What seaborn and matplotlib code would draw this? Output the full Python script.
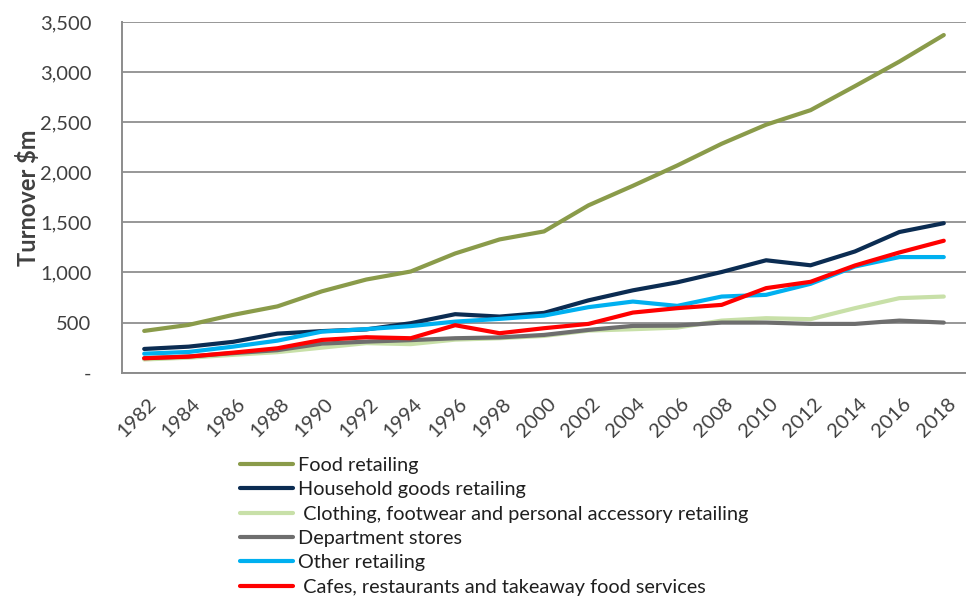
import matplotlib
matplotlib.use("Agg")
import matplotlib.pyplot as plt
import matplotlib.transforms as mtransforms
import seaborn as sns
import pandas as pd
from matplotlib.ticker import FuncFormatter, FixedLocator

years = [str(y) for y in range(1982, 2019, 2)]

food = [417, 477, 577, 662, 812, 930, 1010, 1190, 1330, 1410, 1670, 1865, 2068, 2285, 2475, 2620, 2860, 3105, 3370]
household = [237, 260, 308, 390, 415, 432, 494, 584, 560, 597, 722, 822, 902, 1005, 1122, 1072, 1210, 1404, 1492]
clothing = [132, 150, 178, 205, 250, 295, 285, 330, 344, 367, 420, 434, 450, 520, 544, 534, 644, 744, 760]
department = [145, 162, 195, 225, 290, 310, 325, 344, 352, 377, 427, 467, 470, 500, 500, 487, 487, 520, 500]
other = [190, 207, 260, 320, 410, 435, 465, 510, 537, 570, 654, 710, 667, 760, 777, 887, 1060, 1154, 1154]
cafes = [144, 160, 200, 244, 327, 354, 344, 474, 394, 444, 487, 600, 644, 677, 844, 907, 1070, 1200, 1317]

series_names = ["Food retailing", "Household goods retailing",
                " Clothing, footwear and personal accessory retailing",
                "Department stores", "Other retailing",
                " Cafes, restaurants and takeaway food services"]
series_values = [food, household, clothing, department, other, cafes]
colors = ["#8A9B4A", "#0B2C52", "#C8E0A8", "#6E6E6E", "#00B0F0", "#FF0000"]

rows = []
for name, vals in zip(series_names, series_values):
    for i, (yr, v) in enumerate(zip(years, vals)):
        rows.append({"idx": i, "year": yr, "series": name, "value": v})
df = pd.DataFrame(rows)

sns.set_style("white")
plt.rcParams["font.family"] = ["Lato", "DejaVu Sans"]

fig = plt.figure(figsize=(9.66, 5.98), dpi=100)
ax = fig.add_axes([122 / 966, 1 - 372.7 / 598, 1 - 122 / 966, (372.7 - 22) / 598])

sns.lineplot(data=df, x="idx", y="value", hue="series", hue_order=series_names,
             palette=colors, linewidth=3.0, ax=ax, legend=True, sort=False)

ax.set_xlim(-0.5, 18.35)
ax.set_ylim(0, 3500)
ax.yaxis.set_major_locator(FixedLocator(range(0, 3501, 500)))
ax.yaxis.set_major_formatter(FuncFormatter(lambda v, p: "-" if v == 0 else f"{int(v):,}"))
ax.set_xticks(range(len(years)))
ax.set_xticklabels(years, rotation=45, ha="right", rotation_mode="anchor")
ax.set_xticks([i - 0.5 for i in range(len(years) + 1)], minor=True)
ax.tick_params(axis="x", which="major", length=0, pad=16, labelsize=14.5, labelcolor="#404040")
ax.tick_params(axis="x", which="minor", length=7, width=1.3, color="#8C8C8C", direction="out")
ax.tick_params(axis="y", which="major", length=7, width=1.3, color="#8C8C8C", direction="out",
               labelsize=14.5, labelcolor="#404040", pad=15)
offset = mtransforms.ScaledTranslation(3 / 100, 0, fig.dpi_scale_trans)
for lab in ax.get_xticklabels():
    lab.set_transform(lab.get_transform() + offset)
ax.grid(axis="y", color="#979797", linewidth=1.4)
ax.grid(axis="x", visible=False)
for s in ["top", "right"]:
    ax.spines[s].set_visible(False)
for s in ["left", "bottom"]:
    ax.spines[s].set_color("#8C8C8C")
    ax.spines[s].set_linewidth(1.4)
ax.set_xlabel("")
ax.set_ylabel("Turnover $m", fontsize=17, fontweight="bold", color="#404040", labelpad=0)

handles, labels = ax.get_legend_handles_labels()
ax.get_legend().remove()
leg = fig.legend(handles, labels, loc="upper left", bbox_to_anchor=(240 / 966, 1 - 457 / 598),
                 frameon=False, fontsize=14.3, handlelength=2.65, handletextpad=0.25,
                 labelspacing=0.37, borderaxespad=0, borderpad=0)
for t in leg.get_texts():
    t.set_color("#1F1F1F")

fig.savefig("out.png", dpi=100)
